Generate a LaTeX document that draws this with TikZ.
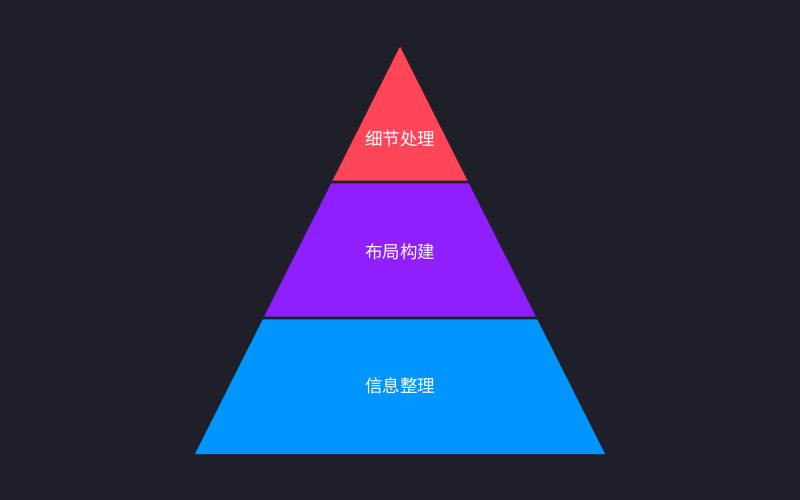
\documentclass[tikz,border=0pt]{standalone}
\usepackage{fontspec}
\newfontfamily\cjk{Noto Sans CJK SC}
\definecolor{bgc}{HTML}{1E1F29}
\definecolor{redc}{HTML}{FF4557}
\definecolor{purc}{HTML}{8F1FFF}
\definecolor{bluc}{HTML}{0095FF}
\tikzset{
  layertext/.style={text=white, font=\cjk\fontsize{17.5pt}{20pt}\selectfont, inner sep=0pt, anchor=center}
}
\begin{document}
\begin{tikzpicture}[x=1pt,y=-1pt]
\fill[bgc] (0,0) rectangle (800,500);
\useasboundingbox (0,0) rectangle (800,500);
\fill[redc] (400,46.5) -- (467.5,180.7) -- (332.5,180.7) -- cycle;
\fill[purc] (331.2,183.3) -- (468.8,183.3) -- (535.9,316.7) -- (264.1,316.7) -- cycle;
\fill[bluc] (262.8,319.3) -- (537.2,319.3) -- (605,454) -- (195,454) -- cycle;
\node[layertext] (top) at (400,139) {细节处理};
\node[layertext] (mid) at (400,252) {布局构建};
\node[layertext] (bot) at (400,386) {信息整理};
\end{tikzpicture}
\end{document}
